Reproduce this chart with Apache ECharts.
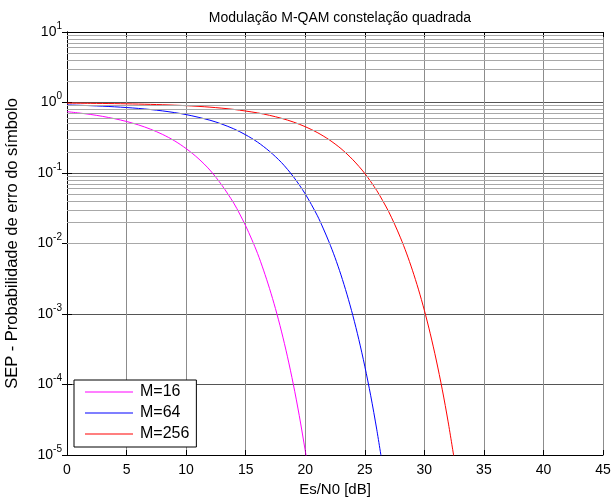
<!DOCTYPE html>
<html><head><meta charset="utf-8">
<script src="https://cdn.jsdelivr.net/npm/echarts@6/dist/echarts.min.js"></script>
<style>html,body{margin:0;padding:0;background:#fff}#c{width:612px;height:501px}</style>
</head><body><div id="c"></div>
<script>
const titleText = 'Modulação M-QAM constelação quadrada';
const xName = 'Es/N0 [dB]';
const yName = 'SEP - Probabilidade de erro do símbolo';
const seriesNames = ['M=16', 'M=64', 'M=256'];
const seriesColors = ['#ff00ff', '#0000ff', '#ff0000'];

const m16X = [0,1,2,3,4,5,6,7,8,9,10,11,12,13,14,14.5,15,15.5,16,16.5,17,17.5,18,18.5,19,19.5,20,20.1];
const m16Y = [0.741,0.710,0.676,0.635,0.589,0.538,0.481,0.419,0.354,0.288,0.222,0.162,0.110,0.0672,0.0374,0.0262,0.0178,0.01155,0.00722,0.00419,0.00231,0.001195,0.000572,0.000252,0.000101,0.0000362,0.0000116,0.0000091];

const m64X = [0,2,4,6,8,10,12,13,14,15,16,17,18,19,20,21,21.5,22,22.5,23,23.5,24,24.5,25,25.5,26,26.5];
const m64Y = [0.924,0.901,0.869,0.824,0.761,0.674,0.561,0.494,0.423,0.348,0.274,0.203,0.141,0.0889,0.0505,0.0252,0.01655,0.01049,0.00633,0.00359,0.001911,0.00095,0.000435,0.000182,0.0000692,0.0000233,0.00000697];

const m256X = [0,2,4,6,8,10,12,14,16,17,18,19,20,21,22,23,24,25,26,26.5,27,27.5,28,28.5,29,29.5,30,30.5,31,31.5,32,32.5];
const m256Y = [0.979,0.973,0.964,0.950,0.930,0.902,0.859,0.798,0.712,0.658,0.597,0.529,0.454,0.376,0.297,0.222,0.154,0.0986,0.0566,0.0406,0.02845,0.01885,0.01204,0.007315,0.00418,0.002252,0.001131,0.000524,0.0002225,0.0000858,0.0000295,0.00000896];

const xMin = 0, xMax = 45, xStep = 5;
const yMin = 1e-5, yMax = 10;
const decades = [-5,-4,-3,-2,-1,0];
const mantissas = [2,3,4,5,6,7,8,9];

const FONT = 'Liberation Sans, Arial, sans-serif';
const pairs = (xs, ys) => xs.map((x, i) => [x, ys[i]]);
const minorLines = [];
decades.forEach(d => mantissas.forEach(m => minorLines.push({ yAxis: m * Math.pow(10, d) })));

const chart = echarts.init(document.getElementById('c'), null, { renderer: 'canvas' });
const yLabelRich = {
  b: { fontSize: 14, lineHeight: 18, verticalAlign: 'bottom', color: '#000', fontFamily: FONT },
  s: { fontSize: 10, lineHeight: 18, verticalAlign: 'top', color: '#000', fontFamily: FONT }
};
const curveSeries = seriesNames.map((n, i) => ({
  name: n, type: 'line', symbol: 'none', smooth: 0.3, z: 3,
  data: pairs([m16X, m64X, m256X][i], [m16Y, m64Y, m256Y][i]),
  lineStyle: { color: seriesColors[i], width: 1 },
  itemStyle: { color: seriesColors[i] },
  clip: true
}));
chart.setOption({
  animation: false,
  backgroundColor: '#fff',
  textStyle: { fontFamily: FONT },
  title: {
    text: titleText, left: 335, top: 6, textAlign: 'center',
    textStyle: { fontSize: 14, fontWeight: 'normal', color: '#000', fontFamily: FONT }
  },
  grid: { left: 67, right: 9, top: 32, bottom: 46, containLabel: false, outerBoundsMode: 'none' },
  legend: {
    data: seriesNames, orient: 'vertical', left: 74, top: 380,
    icon: 'rect', itemWidth: 48, itemHeight: 1, itemGap: 5,
    padding: [4, 7, 5, 11],
    backgroundColor: '#fff', borderColor: '#000', borderWidth: 1,
    textStyle: { fontSize: 16, color: '#000', fontFamily: FONT, padding: [0, 0, 0, 2] }
  },
  xAxis: [{
    type: 'value', min: xMin, max: xMax, interval: xStep, position: 'bottom',
    name: xName, nameLocation: 'middle', nameGap: 27,
    nameTextStyle: { fontSize: 15, color: '#000', fontFamily: FONT },
    axisLine: { show: true, lineStyle: { color: '#000', width: 1 } },
    axisTick: { show: true, inside: true, length: 5, lineStyle: { color: '#000' } },
    axisLabel: { fontSize: 14, color: '#000', margin: 8, fontFamily: FONT },
    splitLine: { show: true, lineStyle: { color: '#8c8c8c', width: 1 } }
  }, {
    type: 'value', min: xMin, max: xMax, interval: xStep, position: 'top',
    axisLine: { show: true, lineStyle: { color: '#000', width: 1 } },
    axisTick: { show: true, inside: true, length: 5, lineStyle: { color: '#000' } },
    axisLabel: { show: false }, splitLine: { show: false }
  }],
  yAxis: [{
    type: 'log', logBase: 10, min: yMin, max: yMax, position: 'left',
    name: yName, nameLocation: 'middle', nameGap: 46, nameRotate: 90,
    nameTextStyle: { fontSize: 16.5, color: '#000', fontFamily: FONT },
    axisLine: { show: true, lineStyle: { color: '#000', width: 1 } },
    axisTick: { show: true, inside: true, length: 5, lineStyle: { color: '#000' } },
    axisLabel: {
      margin: 5, padding: [0, 0, 4, 0],
      formatter: v => '{b|10}{s|' + Math.round(Math.log10(v)) + '}',
      rich: yLabelRich
    },
    splitLine: { show: true, lineStyle: { color: '#555', width: 1 } }
  }, {
    type: 'log', logBase: 10, min: yMin, max: yMax, position: 'right',
    axisLine: { show: true, lineStyle: { color: '#000', width: 1 } },
    axisTick: { show: true, inside: true, length: 5, lineStyle: { color: '#000' } },
    axisLabel: { show: false }, splitLine: { show: false }
  }],
  series: [{
    name: 'minorGrid', type: 'line', data: [], z: 1, silent: true,
    markLine: {
      silent: true, symbol: ['none', 'none'], animation: false,
      label: { show: false },
      lineStyle: { type: 'solid', color: '#a8a8a8', width: 1 },
      emphasis: { disabled: true },
      data: minorLines
    }
  }].concat(curveSeries)
});
</script></body></html>
